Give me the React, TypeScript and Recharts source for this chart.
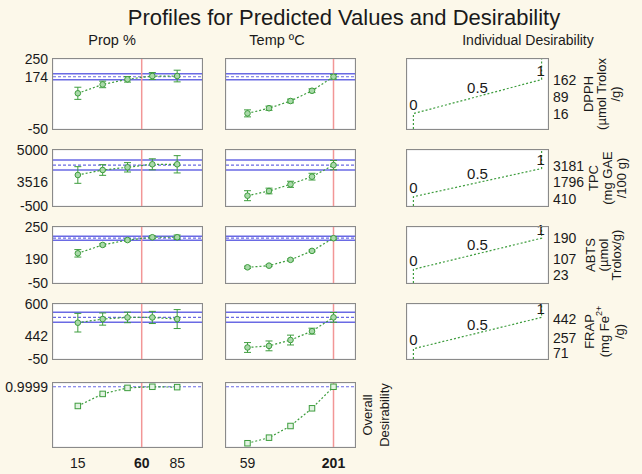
import React from "react";
import { ComposedChart, Line, XAxis, YAxis, CartesianGrid, ReferenceLine, ErrorBar } from "recharts";

// colours / fonts
const BG = "#fcf8ea";
const GREEN = "#3e9d3e";
const BLUE = "#6a6ae4";
const RED = "#f29696";
const GRID = "#e6e6e6";
const TICK = "#666";
const TEXT = "#1a1a1a";
const FONT = "'Liberation Sans', Arial, sans-serif";

// factor levels
const propLevels = [15, 32.5, 50, 67.5, 85];
const tempLevels = [59, 94.5, 130, 165.5, 201];
const propLabels = [15, 60, 85];
const tempLabels = [59, 201];
const propCurrent = 60;
const tempCurrent = 201;

// predicted responses and CI half widths
const dpphByProp = [103, 141, 163, 177, 177];
const dpphByPropCI = [26, 14, 12, 15, 25];
const dpphByTemp = [17, 39, 70, 114, 174];
const dpphByTempCI = [15, 9, 8, 8, 10];

const tpcByProp = [2545, 3036, 3300, 3596, 3596];
const tpcByPropCI = [818, 525, 460, 540, 850];
const tpcByTemp = [512, 974, 1632, 2382, 3516];
const tpcByTempCI = [490, 280, 300, 330, 460];

const abtsByProp = [109, 154, 180, 195, 195];
const abtsByPropCI = [20, 6, 6, 8, 12];
const abtsByTemp = [34, 43, 74, 122, 190];
const abtsByTempCI = [6, 5, 5, 5, 8];

const frapByProp = [379, 422, 441, 441, 422];
const frapByPropCI = [110, 72, 62, 72, 112];
const frapByTemp = [86, 105, 174, 279, 442];
const frapByTempCI = [58, 58, 58, 35, 58];

const overallByProp = [0.745, 0.905, 0.985, 0.9999, 0.995];
const overallByTemp = [0.25, 0.324, 0.479, 0.714, 0.9999];

// per response row
const yDomains: [number, number][] = [[-50, 250], [-500, 5000], [-50, 250], [-50, 600], [0.2, 1.05]];
const currentValues = [174, 3516, 190, 442, 0.9999];
const bandLow = [161, 3030, 179, 384];
const bandHigh = [187, 4010, 200, 502];
const desirLow = [16, 410, 23, 71];
const desirMid = [89, 1796, 107, 257];
const desirHigh = [162, 3181, 190, 442];
const desirText = ["0", "0.5", "1"];
const gridSteps = [50, 500, 50, 50];
const overallGrid = [0.225, 0.38, 0.535, 0.69, 0.845, 1.0];
const desirGrid = [0.15, 0.35, 0.55, 0.75, 0.95];

// layout
const COL_X = [53, 226, 407];
const COL_W = [149, 129, 141];
const ROW_Y = [59, 150, 227, 304, 383];
const ROW_H = [70, 56, 56, 55, 64];
const PAD = 9;
const LEFT_SHIFT = [0, 17, 21, 19, 0];
const RIGHT_SHIFT = [[0, 0, 0], [-3, -1, 2], [0, 5, 6], [2, 5, 4]];

const range = (lo: number, hi: number, step: number) => {
  const out: number[] = [];
  for (let v = lo; v <= hi + 1e-9; v += step) out.push(v);
  return out;
};
const gridFor = (row: number) => (row === 4 ? overallGrid : range(yDomains[row][0], yDomains[row][1], gridSteps[row]));

const markProps = { mirror: true, axisLine: false, tick: false, tickSize: 3, stroke: TICK, interval: 0 as const, allowDataOverflow: true };

function Border({ x, y, w, h }: { x: number; y: number; w: number; h: number }) {
  return (
    <div style={{ position: "absolute", left: x - 1, top: y - 1, width: w + 2, height: h + 2, border: "1.5px solid #8a8a8a", boxSizing: "border-box", pointerEvents: "none" }} />
  );
}

function ProfilePanel({ col, row, levels, values, ci, xCurrent, xLabels }: any) {
  const w = COL_W[col], h = ROW_H[row];
  const step = levels[1] - levels[0];
  const xDom = [levels[0] - step, levels[levels.length - 1] + step];
  const yDom = yDomains[row];
  const data = levels.map((x: number, i: number) => ({ x, y: values[i], e: ci ? ci[i] : 0 }));
  const labelW = col === 0 ? 53 : 0;
  const labelH = xLabels ? 26 : 0;
  const leftTicks = row === 4 ? [currentValues[4]] : [yDom[1], currentValues[row], yDom[0]];
  const square = row === 4;
  return (
    <div style={{ position: "absolute", left: COL_X[col] - labelW, top: ROW_Y[row] - PAD }}>
      <ComposedChart width={w + labelW} height={h + labelH + 2 * PAD} data={data} margin={{ top: PAD, right: 0, bottom: PAD, left: 0 }}>
        <CartesianGrid fill="#fff" fillOpacity={1} stroke={GRID} />
        <XAxis dataKey="x" type="number" domain={xDom} ticks={levels} height={0} {...markProps} />
        <XAxis xAxisId="top" dataKey="x" orientation="top" type="number" domain={xDom} ticks={levels} height={0} {...markProps} />
        <YAxis type="number" domain={yDom} ticks={gridFor(row)} width={0} {...markProps} />
        <YAxis yAxisId="right" orientation="right" type="number" domain={yDom} ticks={gridFor(row)} width={0} {...markProps} />
        {col === 0 && (
          <YAxis
            yAxisId="lab"
            type="number"
            domain={yDom}
            allowDataOverflow
            ticks={leftTicks}
            interval={0}
            width={labelW}
            axisLine={false}
            tickLine={false}
            tickSize={0}
            tickMargin={5}
            tick={(p: any) => (
              <text key={p.index} x={p.x} y={p.y + (p.payload.value === currentValues[row] ? LEFT_SHIFT[row] : 0)} textAnchor="end" dominantBaseline="central" fontSize={14} fontFamily={FONT} fill={TEXT}>
                {p.payload.value}
              </text>
            )}
          />
        )}
        {xLabels && (
          <XAxis
            xAxisId="lab"
            dataKey="x"
            orientation="bottom"
            type="number"
            domain={xDom}
            allowDataOverflow
            ticks={xLabels}
            interval={0}
            height={labelH}
            axisLine={false}
            tickLine={false}
            tickSize={0}
            tickMargin={0}
            tick={(p: any) => (
              <text key={p.index} x={p.x} y={p.y + 16} textAnchor="middle" dominantBaseline="central" fontSize={14} fontFamily={FONT} fontWeight={p.payload.value === xCurrent ? "bold" : "normal"} fill={TEXT}>
                {p.payload.value}
              </text>
            )}
          />
        )}
        {row < 4 && <ReferenceLine y={bandLow[row]} stroke={BLUE} strokeWidth={1.5} />}
        {row < 4 && <ReferenceLine y={bandHigh[row]} stroke={BLUE} strokeWidth={1.5} />}
        <ReferenceLine y={currentValues[row]} stroke={BLUE} strokeWidth={1.2} strokeDasharray="3 2" />
        <ReferenceLine x={xCurrent} stroke={RED} strokeWidth={1.5} />
        <Line
          dataKey="y"
          stroke={GREEN}
          strokeWidth={1.2}
          strokeDasharray="2 2"
          isAnimationActive={false}
          dot={(p: any) =>
            square ? (
              <rect key={p.index} x={p.cx - 2.75} y={p.cy - 2.75} width={5.5} height={5.5} fill="#e3f3e3" stroke={GREEN} strokeWidth={1} />
            ) : (
              <circle key={p.index} cx={p.cx} cy={p.cy} r={2.8} fill="#a9d9a9" stroke={GREEN} strokeWidth={1} />
            )
          }
        >
          {ci && <ErrorBar dataKey="e" width={3.5} stroke={GREEN} strokeWidth={1} direction="y" isAnimationActive={false} />}
        </Line>
      </ComposedChart>
      <Border x={labelW} y={PAD} w={w} h={h} />
    </div>
  );
}

function DesirPanel({ row }: { row: number }) {
  const w = COL_W[2], h = ROW_H[row];
  const yDom = yDomains[row];
  const lo = desirLow[row], mid = desirMid[row], hi = desirHigh[row];
  const curve = [{ d: 0, v: yDom[0] }, { d: 0, v: lo }, { d: 1, v: hi }, { d: 1, v: yDom[1] }];
  const marks = [{ d: 0, v: lo }, { d: 0.5, v: mid }, { d: 1, v: hi }];
  const labelW = 50;
  const rTicks = [hi, mid, lo];
  const xDom = [-0.05, 1.05];
  return (
    <div style={{ position: "absolute", left: COL_X[2], top: ROW_Y[row] - PAD }}>
      <ComposedChart width={w + labelW} height={h + 2 * PAD} margin={{ top: PAD, right: 0, bottom: PAD, left: 0 }}>
        <CartesianGrid fill="#fff" fillOpacity={1} stroke={GRID} />
        <XAxis dataKey="d" type="number" domain={xDom} ticks={desirGrid} height={0} {...markProps} />
        <XAxis xAxisId="top" dataKey="d" orientation="top" type="number" domain={xDom} ticks={desirGrid} height={0} {...markProps} />
        <YAxis type="number" domain={yDom} ticks={gridFor(row)} width={0} {...markProps} />
        <YAxis yAxisId="right" orientation="right" type="number" domain={yDom} ticks={gridFor(row)} width={0} {...markProps} />
        <YAxis
          yAxisId="lab"
          orientation="right"
          type="number"
          domain={yDom}
          allowDataOverflow
          ticks={rTicks}
          interval={0}
          width={labelW}
          axisLine={false}
          tickLine={false}
          tickSize={0}
          tickMargin={5}
          tick={(p: any) => (
            <text key={p.index} x={p.x} y={p.y + RIGHT_SHIFT[row][rTicks.indexOf(p.payload.value)]} textAnchor="start" dominantBaseline="central" fontSize={14} fontFamily={FONT} fill={TEXT}>
              {p.payload.value}
            </text>
          )}
        />
        <Line data={curve} dataKey="v" stroke={GREEN} strokeWidth={1.2} strokeDasharray="2 2" dot={false} isAnimationActive={false} />
        <Line
          data={marks}
          dataKey="v"
          stroke="none"
          dot={false}
          isAnimationActive={false}
          label={(p: any) => (
            <text key={p.index} x={p.x + (p.index === 2 ? -1 : 0)} y={p.y - 9} textAnchor="middle" dominantBaseline="central" fontSize={15} fontFamily={FONT} fill={TEXT}>
              {desirText[p.index]}
            </text>
          )}
        />
      </ComposedChart>
      <Border x={0} y={PAD} w={w} h={h} />
    </div>
  );
}

const rowNames: React.ReactNode[][] = [
  ["DPPH", "(µmol Trolox", "/g)"],
  ["TPC", "(mg GAE", "/100 g)"],
  ["ABTS", "(µmol", "Trolox/g)"],
  [
    "FRAP",
    <>
      (mg Fe<tspan baselineShift="super" fontSize={9}>2+</tspan>
    </>,
    "/g)",
  ],
];
const NAME_X = [[588, 601, 615], [593, 607, 621], [590, 603, 616], [589, 604, 619]];

export default function App() {
  const rows = [
    [dpphByProp, dpphByPropCI, dpphByTemp, dpphByTempCI],
    [tpcByProp, tpcByPropCI, tpcByTemp, tpcByTempCI],
    [abtsByProp, abtsByPropCI, abtsByTemp, abtsByTempCI],
    [frapByProp, frapByPropCI, frapByTemp, frapByTempCI],
    [overallByProp, null, overallByTemp, null],
  ];
  return (
    <div style={{ position: "absolute", left: 0, top: 0, width: 642, height: 474, background: BG, fontFamily: FONT, overflow: "hidden" }}>
      <svg width={642} height={474} style={{ position: "absolute", left: 0, top: 0 }}>
        <text x={344} y={17} textAnchor="middle" dominantBaseline="central" fontSize={22} fill={TEXT} fontFamily={FONT}>
          Profiles for Predicted Values and Desirability
        </text>
        <text x={112} y={40} textAnchor="middle" dominantBaseline="central" fontSize={14.5} fill={TEXT} fontFamily={FONT}>Prop %</text>
        <text x={277} y={40} textAnchor="middle" dominantBaseline="central" fontSize={14.5} fill={TEXT} fontFamily={FONT}>Temp ºC</text>
        <text x={528} y={40} textAnchor="middle" dominantBaseline="central" fontSize={14} fill={TEXT} fontFamily={FONT}>Individual Desirability</text>
        {rowNames.map((lines, r) =>
          lines.map((line, i) => {
            const cx = NAME_X[r][i];
            const cy = ROW_Y[r] + ROW_H[r] / 2;
            return (
              <text key={`${r}-${i}`} x={cx} y={cy} transform={`rotate(-90 ${cx} ${cy})`} textAnchor="middle" dominantBaseline="central" fontSize={13} fill={TEXT} fontFamily={FONT}>
                {line}
              </text>
            );
          })
        )}
        {["Overall", "Desirability"].map((line, i) => {
          const cx = 367 + i * 17;
          const cy = 415;
          return (
            <text key={line} x={cx} y={cy} transform={`rotate(-90 ${cx} ${cy})`} textAnchor="middle" dominantBaseline="central" fontSize={13} fill={TEXT} fontFamily={FONT}>
              {line}
            </text>
          );
        })}
      </svg>
      {rows.map(([pv, pc, tv, tc], r) => (
        <React.Fragment key={r}>
          <ProfilePanel col={0} row={r} levels={propLevels} values={pv} ci={pc} xCurrent={propCurrent} xLabels={r === 4 ? propLabels : undefined} />
          <ProfilePanel col={1} row={r} levels={tempLevels} values={tv} ci={tc} xCurrent={tempCurrent} xLabels={r === 4 ? tempLabels : undefined} />
          {r < 4 && <DesirPanel row={r} />}
        </React.Fragment>
      ))}
    </div>
  );
}
